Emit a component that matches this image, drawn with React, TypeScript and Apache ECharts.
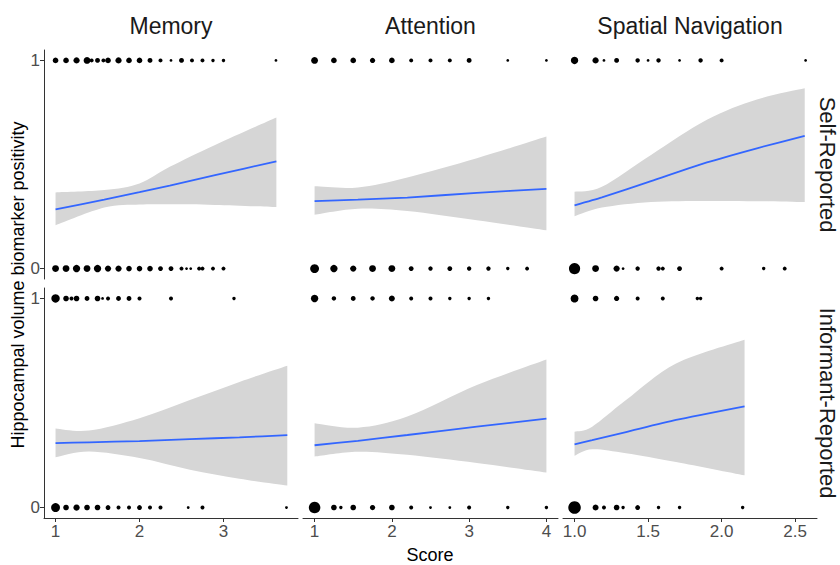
import { useEffect, useRef } from "react";
import * as echarts from "echarts";

const columns = ["Memory", "Attention", "Spatial Navigation"];
const rows = ["Self-Reported", "Informant-Reported"];
const yTitle = "Hippocampal volume biomarker positivity";
const xTitle = "Score";

const memTicks = [1, 2, 3];
const attTicks = [1, 2, 3, 4];
const spaTicks = [1.0, 1.5, 2.0, 2.5];
const yTicks = [0, 1];

// dots: [score, count]
const memSelfOnes = [[1, 4], [1.125, 4], [1.25, 5], [1.375, 6], [1.43, 2], [1.5, 3], [1.57, 2], [1.625, 4], [1.75, 5], [1.875, 4], [2, 4], [2.125, 3], [2.25, 2], [2.375, 1], [2.5, 3], [2.625, 2], [2.75, 2], [2.875, 1.5], [3, 1.5], [3.625, 1]];
const memSelfZeros = [[1, 6], [1.125, 6], [1.25, 7], [1.375, 6], [1.5, 7], [1.625, 5], [1.75, 5], [1.875, 4], [2, 4], [2.125, 4], [2.25, 3], [2.375, 3], [2.5, 2], [2.56, 1], [2.61, 1], [2.71, 2], [2.75, 2], [2.875, 2], [3, 2]];
const memInfOnes = [[1, 9], [1.125, 4], [1.19, 2], [1.25, 4], [1.375, 3], [1.5, 4], [1.56, 1], [1.625, 2], [1.75, 3], [1.875, 3], [2, 2], [2.375, 2], [3.125, 1.5]];
const memInfZeros = [[1, 10], [1.125, 4], [1.25, 5], [1.375, 4], [1.5, 4], [1.625, 3], [1.75, 2], [1.875, 2], [2, 3], [2.125, 2], [2.25, 2], [2.58, 1], [2.75, 2], [3.75, 1]];

const attSelfOnes = [[1, 6], [1.25, 4], [1.5, 4], [1.75, 3.5], [2, 4], [2.25, 2], [2.5, 2], [2.75, 2], [3, 3], [3.5, 1], [4, 1]];
const attSelfZeros = [[1, 10], [1.25, 7], [1.5, 5], [1.75, 6], [2, 6], [2.25, 3], [2.5, 2.5], [2.75, 3], [3, 2.5], [3.25, 2.5], [3.5, 1.5], [3.75, 2]];
const attInfOnes = [[1, 7], [1.25, 2.5], [1.5, 3], [1.75, 2.5], [2, 4.5], [2.25, 2], [2.5, 2], [2.75, 1.5], [3, 1.5], [3.25, 1.5]];
const attInfZeros = [[1, 17], [1.25, 4], [1.34, 1.5], [1.5, 4], [1.75, 3.5], [2, 4], [2.25, 2], [2.5, 1], [2.75, 1], [3, 2], [3.5, 1.5], [4, 1.5]];

const spaSelfOnes = [[1, 7], [1.143, 5], [1.2, 1], [1.286, 3], [1.429, 2.5], [1.5, 1], [1.571, 2.5], [1.714, 1], [1.857, 2.5], [2, 2], [2.571, 1]];
const spaSelfZeros = [[1, 16], [1.143, 6], [1.286, 5], [1.33, 1], [1.429, 2.5], [1.571, 2.5], [1.6, 2], [1.714, 3], [2, 2], [2.286, 1.5], [2.429, 2]];
const spaInfOnes = [[1, 8], [1.143, 4], [1.286, 3.5], [1.429, 2], [1.6, 2], [1.835, 1.5], [1.857, 1.5]];
const spaInfZeros = [[1, 20], [1.143, 4.5], [1.2, 2], [1.286, 4], [1.33, 1.5], [1.429, 3], [1.571, 1.5], [1.714, 1.5], [2.143, 1.5]];

// fitted logistic curves with confidence band
const memSelfX = [1, 1.58, 2.0, 2.36, 2.9, 3.63];
const memSelfFit = [0.284, 0.331, 0.367, 0.399, 0.449, 0.515];
const memSelfLo = [0.208, 0.293, 0.308, 0.309, 0.306, 0.296];
const memSelfHi = [0.366, 0.377, 0.409, 0.489, 0.594, 0.726];

const attSelfX = [1, 1.56, 2.2, 3.1, 4];
const attSelfFit = [0.324, 0.331, 0.341, 0.364, 0.383];
const attSelfLo = [0.259, 0.288, 0.277, 0.232, 0.184];
const attSelfHi = [0.395, 0.39, 0.438, 0.53, 0.634];

const spaSelfX = [1, 1.186, 1.52, 1.9, 2.24, 2.565];
const spaSelfFit = [0.304, 0.342, 0.42, 0.51, 0.578, 0.638];
const spaSelfLo = [0.251, 0.293, 0.32, 0.325, 0.324, 0.32];
const spaSelfHi = [0.369, 0.393, 0.546, 0.715, 0.812, 0.866];

const memInfX = [1, 1.4, 2.0, 2.6, 3.19, 3.76];
const memInfFit = [0.308, 0.312, 0.318, 0.327, 0.336, 0.346];
const memInfLo = [0.241, 0.268, 0.237, 0.181, 0.138, 0.105];
const memInfHi = [0.378, 0.368, 0.427, 0.514, 0.601, 0.678];

const attInfX = [1, 1.56, 2.2, 3.1, 4];
const attInfFit = [0.298, 0.319, 0.347, 0.387, 0.425];
const attInfLo = [0.244, 0.267, 0.252, 0.213, 0.168];
const attInfHi = [0.403, 0.382, 0.435, 0.586, 0.708];

const spaInfX = [1, 1.12, 1.35, 1.69, 2.156];
const spaInfFit = [0.302, 0.322, 0.361, 0.419, 0.484];
const spaInfLo = [0.248, 0.279, 0.26, 0.218, 0.154];
const spaInfHi = [0.363, 0.387, 0.514, 0.689, 0.803];

const FONT = "Liberation Sans, Arial, Helvetica, sans-serif";

let registered = false;
function registerRibbon() {
  if (registered) return;
  registered = true;
  const Ribbon = (echarts.graphic as any).extendShape({
    shape: { upper: [], lower: [] },
    buildPath(ctx: any, shape: any) {
      const trace = (pts: number[][], move: boolean) => {
        if (!pts.length) return;
        if (move) ctx.moveTo(pts[0][0], pts[0][1]);
        else ctx.lineTo(pts[0][0], pts[0][1]);
        for (let i = 0; i < pts.length - 1; i++) {
          const p0 = pts[Math.max(i - 1, 0)];
          const p1 = pts[i];
          const p2 = pts[i + 1];
          const p3 = pts[Math.min(i + 2, pts.length - 1)];
          ctx.bezierCurveTo(
            p1[0] + (p2[0] - p0[0]) / 6,
            p1[1] + (p2[1] - p0[1]) / 6,
            p2[0] - (p3[0] - p1[0]) / 6,
            p2[1] - (p3[1] - p1[1]) / 6,
            p2[0],
            p2[1]
          );
        }
      };
      trace(shape.upper, true);
      trace(shape.lower.slice().reverse(), false);
      ctx.closePath();
    },
  });
  (echarts.graphic as any).registerShape("ribbon", Ribbon);
}

export default function App() {
  const ref = useRef<HTMLDivElement>(null);

  useEffect(() => {
    registerRibbon();
    const chart = echarts.init(ref.current!, null, { renderer: "svg" });

    const colLeft = [44, 303, 563];
    const colWidth = [254, 255, 254];
    const rowTop = [50, 288];
    const rowHeight = [229, 230];
    const xRanges = [
      [0.8625, 3.8875],
      [0.85, 4.15],
      [0.9215, 2.6485],
    ];
    const colTicks = [memTicks, attTicks, spaTicks];

    const panels = [
      { r: 0, c: 0, ones: memSelfOnes, zeros: memSelfZeros, x: memSelfX, fit: memSelfFit, lo: memSelfLo, hi: memSelfHi },
      { r: 0, c: 1, ones: attSelfOnes, zeros: attSelfZeros, x: attSelfX, fit: attSelfFit, lo: attSelfLo, hi: attSelfHi },
      { r: 0, c: 2, ones: spaSelfOnes, zeros: spaSelfZeros, x: spaSelfX, fit: spaSelfFit, lo: spaSelfLo, hi: spaSelfHi },
      { r: 1, c: 0, ones: memInfOnes, zeros: memInfZeros, x: memInfX, fit: memInfFit, lo: memInfLo, hi: memInfHi },
      { r: 1, c: 1, ones: attInfOnes, zeros: attInfZeros, x: attInfX, fit: attInfFit, lo: attInfLo, hi: attInfHi },
      { r: 1, c: 2, ones: spaInfOnes, zeros: spaInfZeros, x: spaInfX, fit: spaInfFit, lo: spaInfLo, hi: spaInfHi },
    ];

    const grid: any[] = [];
    const xAxis: any[] = [];
    const yAxis: any[] = [];
    const series: any[] = [];

    panels.forEach((p, i) => {
      grid.push({ left: colLeft[p.c], top: rowTop[p.r], width: colWidth[p.c], height: rowHeight[p.r], containLabel: false });
      const bottom = p.r === 1;
      const ticks = colTicks[p.c];
      xAxis.push({
        type: "value",
        gridIndex: i,
        min: xRanges[p.c][0],
        max: xRanges[p.c][1],
        splitLine: { show: false },
        axisLine: { show: bottom, onZero: false, lineStyle: { color: "#333", width: 1 } },
        axisTick: { show: bottom, length: 4, customValues: ticks, lineStyle: { color: "#333" } },
        axisLabel: {
          show: bottom,
          customValues: ticks,
          color: "#4d4d4d",
          fontSize: 17,
          fontFamily: FONT,
          margin: 5,
          formatter: (v: number) => (p.c === 2 ? v.toFixed(1) : String(v)),
        },
      });
      const leftCol = p.c === 0;
      yAxis.push({
        type: "value",
        gridIndex: i,
        min: -0.05,
        max: 1.05,
        splitLine: { show: false },
        axisLine: { show: leftCol, onZero: false, lineStyle: { color: "#333", width: 1 } },
        axisTick: { show: leftCol, length: 4, customValues: yTicks, lineStyle: { color: "#333" } },
        axisLabel: {
          show: leftCol,
          customValues: yTicks,
          color: "#4d4d4d",
          fontSize: 17,
          fontFamily: FONT,
          margin: 4,
        },
      });

      series.push({
        type: "custom",
        xAxisIndex: i,
        yAxisIndex: i,
        silent: true,
        z: 1,
        data: [[p.x[0], p.fit[0]]],
        renderItem: (_params: any, api: any) => {
          const upper = p.x.map((xv, k) => api.coord([xv, p.hi[k]]));
          const lower = p.x.map((xv, k) => api.coord([xv, p.lo[k]]));
          return { type: "ribbon", shape: { upper, lower }, style: { fill: "#d6d6d6", stroke: null } };
        },
      });
      series.push({
        type: "line",
        xAxisIndex: i,
        yAxisIndex: i,
        z: 3,
        smooth: 0.2,
        showSymbol: false,
        symbol: "none",
        silent: true,
        lineStyle: { color: "#3366FF", width: 1.8 },
        data: p.x.map((xv, k) => [xv, p.fit[k]]),
      });
      series.push({
        type: "scatter",
        xAxisIndex: i,
        yAxisIndex: i,
        z: 4,
        silent: true,
        symbol: "circle",
        symbolSize: (v: number[]) => 2.8 * Math.sqrt(v[2]),
        itemStyle: { color: "#000", opacity: 1 },
        data: [...p.ones.map(([s, n]) => [s, 1, n]), ...p.zeros.map(([s, n]) => [s, 0, n])],
      });
    });

    const graphic: any[] = [];
    columns.forEach((name, c) => {
      graphic.push({
        type: "text",
        x: colLeft[c] + colWidth[c] / 2,
        y: 26,
        style: { text: name, fontSize: 23, fontFamily: FONT, fill: "#1a1a1a", align: "center", verticalAlign: "middle" },
      });
    });
    rows.forEach((name, r) => {
      graphic.push({
        type: "text",
        x: 827,
        y: rowTop[r] + rowHeight[r] / 2,
        rotation: -Math.PI / 2,
        style: { text: name, fontSize: 22, fontFamily: FONT, fill: "#1a1a1a", align: "center", verticalAlign: "middle" },
      });
    });
    graphic.push({
      type: "text",
      x: 18,
      y: 285,
      rotation: Math.PI / 2,
      style: { text: yTitle, fontSize: 18, fontFamily: FONT, fill: "#000", align: "center", verticalAlign: "middle" },
    });
    graphic.push({
      type: "text",
      x: 430,
      y: 555,
      style: { text: xTitle, fontSize: 18, fontFamily: FONT, fill: "#000", align: "center", verticalAlign: "middle" },
    });

    chart.setOption({
      animation: false,
      backgroundColor: "#ffffff",
      grid,
      xAxis,
      yAxis,
      series,
      graphic,
    });

    return () => chart.dispose();
  }, []);

  return <div ref={ref} style={{ position: "fixed", left: 0, top: 0, width: 840, height: 565 }} />;
}
